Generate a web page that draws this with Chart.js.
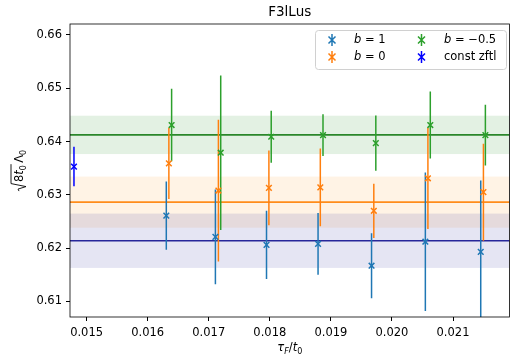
<!DOCTYPE html>
<html>
<head>
<meta charset="utf-8">
<script src="https://cdn.jsdelivr.net/npm/chart.js@4"></script>
<style>
  html, body { margin: 0; padding: 0; background: #fff; }
  #wrap { width: 515px; height: 355px; }
</style>
</head>
<body>
<div id="wrap"><canvas id="myChart" width="515" height="355"></canvas></div>
<script>
// data
const xB = [0.016305, 0.017109, 0.017946, 0.018790, 0.019666, 0.020547, 0.021454];
const yB = [0.6261, 0.6221, 0.6206, 0.6208, 0.6167, 0.6212, 0.6193];
const eB = [0.0064, 0.0089, 0.0064, 0.0058, 0.0061, 0.0130, 0.0134];

const xO = [0.016347, 0.017158, 0.017985, 0.018827, 0.019703, 0.020589, 0.021498];
const yO = [0.6359, 0.6308, 0.6313, 0.6314, 0.6270, 0.6331, 0.6305];
const eO = [0.0067, 0.0133, 0.0070, 0.0073, 0.0051, 0.0095, 0.0091];

const xG = [0.016392, 0.017196, 0.018023, 0.018871, 0.019736, 0.020628, 0.021530];
const yG = [0.6431, 0.6379, 0.6409, 0.6412, 0.6397, 0.6431, 0.6412];
const eG = [0.0068, 0.0145, 0.0049, 0.0039, 0.0052, 0.0063, 0.0057];

const xC = [0.014793];
const yC = [0.6353];
const eC = [0.0037];

// fitted constants and their bands
const fitNames = ['b=-0.5', 'b=0', 'b=1'];
const fitVal = [0.64125, 0.62863, 0.62138];
const fitErr = [0.0036, 0.0048, 0.0051];

const xTicks = [0.015, 0.016, 0.017, 0.018, 0.019, 0.020, 0.021];
const yTicks = [0.61, 0.62, 0.63, 0.64, 0.65, 0.66];
const xRange = [0.014728, 0.021925];
const yRange = [0.60707, 0.66206];

const FONT = "'DejaVu Sans', sans-serif";
const FS = 11.5;

function pts(xs, ys, es) {
  return xs.map((x, i) => ({x: x, y: ys[i], e: es[i]}));
}

const bandColors = ['rgba(0,128,0,0.11)', 'rgba(255,140,0,0.1)', 'rgba(0,0,139,0.1)'];
const lineColors = ['#2b872b', '#ff8c1a', '#27279a'];

// bands + horizontal lines under the points, error bars, frame, texts
const extras = {
  id: 'extras',
  beforeDatasetsDraw(chart) {
    const c = chart.ctx, a = chart.chartArea, ys = chart.scales.y;
    c.save();
    c.beginPath(); c.rect(a.left, a.top, a.right - a.left, a.bottom - a.top); c.clip();
    fitVal.forEach((v, i) => {
      const t = ys.getPixelForValue(v + fitErr[i]);
      const b = ys.getPixelForValue(v - fitErr[i]);
      c.fillStyle = bandColors[i];
      c.fillRect(a.left, t, a.right - a.left, b - t);
    });
    fitVal.forEach((v, i) => {
      const p = ys.getPixelForValue(v);
      c.strokeStyle = lineColors[i];
      c.lineWidth = 1.6;
      c.beginPath(); c.moveTo(a.left, p); c.lineTo(a.right, p); c.stroke();
    });
    // error bars
    chart.data.datasets.forEach(ds => {
      c.strokeStyle = ds.borderColor;
      c.lineWidth = 1.5;
      ds.data.forEach(d => {
        const px = chart.scales.x.getPixelForValue(d.x);
        c.beginPath();
        c.moveTo(px, ys.getPixelForValue(d.y + d.e));
        c.lineTo(px, ys.getPixelForValue(d.y - d.e));
        c.stroke();
      });
    });
    c.restore();
  },
  afterDraw(chart) {
    const c = chart.ctx, a = chart.chartArea;
    c.save();
    // frame
    c.strokeStyle = '#000'; c.lineWidth = 0.8;
    c.strokeRect(a.left, a.top, a.right - a.left, a.bottom - a.top);

    // title
    c.fillStyle = '#000';
    c.font = '13.5px ' + FONT;
    c.textAlign = 'center'; c.textBaseline = 'middle';
    c.fillText('F3lLus', (a.left + a.right) / 2, 12);

    // x label  τ_F / t_0
    const cx = (a.left + a.right) / 2, by = 351;
    c.textBaseline = 'alphabetic'; c.textAlign = 'left';
    let parts = [
      ['τ', 'italic ' + FS + 'px ' + FONT, 0],
      ['F', 'italic 8px ' + FONT, 2.5],
      ['/', FS + 'px ' + FONT, 0],
      ['t', 'italic ' + FS + 'px ' + FONT, 0],
      ['0', '8px ' + FONT, 2.5]
    ];
    let w = 0;
    parts.forEach(p => { c.font = p[1]; w += c.measureText(p[0]).width; });
    let x0 = cx - w / 2;
    parts.forEach(p => { c.font = p[1]; c.fillText(p[0], x0, by + p[2]); x0 += c.measureText(p[0]).width; });

    // y label  sqrt(8 t_0) Λ_0
    c.translate(19, (a.top + a.bottom) / 2);
    c.rotate(-Math.PI / 2);
    parts = [
      ['8', FS + 'px ' + FONT, 0],
      ['t', 'italic ' + FS + 'px ' + FONT, 0],
      ['0', '8px ' + FONT, 2.5],
      ['\u2009', FS + 'px ' + FONT, 0],
      ['Λ', FS + 'px ' + FONT, 0],
      ['0', '8px ' + FONT, 2.5]
    ];
    const rad = 9;
    w = rad;
    parts.forEach(p => { c.font = p[1]; w += c.measureText(p[0]).width; });
    x0 = -w / 2;
    const base = 4;
    // radical sign
    c.strokeStyle = '#000'; c.lineWidth = 0.9;
    c.beginPath();
    c.moveTo(x0, base - 4);
    c.lineTo(x0 + 2, base - 5);
    c.lineTo(x0 + 4.5, base + 3);
    c.lineTo(x0 + 7.5, base - 12);
    x0 += rad;
    let olEnd = x0;
    parts.forEach((p, i) => {
      c.font = p[1];
      const pw = c.measureText(p[0]).width;
      c.fillText(p[0], x0, base + p[2]);
      if (i < 3) olEnd = x0 + pw + 1;
      x0 += pw;
    });
    c.lineTo(olEnd, base - 12);
    c.stroke();
    c.restore();

    // legend
    c.save();
    const lx = 315, ly = 30, lw = 191, lh = 39;
    c.fillStyle = 'rgba(255,255,255,0.8)';
    c.strokeStyle = '#d0d0d0'; c.lineWidth = 1;
    c.beginPath(); c.roundRect(lx + 0.5, ly + 0.5, lw, lh, 3); c.fill(); c.stroke();
    const items = [
      [332, 40, chart.data.datasets[0], 354],
      [332, 57, chart.data.datasets[1], 354],
      [421.5, 40, chart.data.datasets[2], 444],
      [421.5, 57, chart.data.datasets[3], 444]
    ];
    items.forEach(it => {
      const [mx, my, ds, tx] = it;
      c.strokeStyle = ds.borderColor; c.lineWidth = 1.5;
      c.beginPath();
      c.moveTo(mx, my - 6); c.lineTo(mx, my + 6);
      c.moveTo(mx - 3.5, my - 3.5); c.lineTo(mx + 3.5, my + 3.5);
      c.moveTo(mx - 3.5, my + 3.5); c.lineTo(mx + 3.5, my - 3.5);
      c.stroke();
      c.fillStyle = '#000'; c.textBaseline = 'middle'; c.textAlign = 'left';
      const lab = ds.label;
      if (lab.startsWith('b')) {
        c.font = 'italic ' + FS + 'px ' + FONT;
        c.fillText('b', tx, my);
        let bx = tx + c.measureText('b').width;
        c.font = FS + 'px ' + FONT;
        c.fillText(lab.slice(1), bx, my);
      } else {
        c.font = FS + 'px ' + FONT;
        c.fillText(lab, tx, my);
      }
    });
    c.restore();
  }
};

const ctx = document.querySelector('#myChart').getContext('2d');
const myChart = new Chart(ctx, {
  type: 'scatter',
  data: {
    datasets: [
      {label: 'b = 1', data: pts(xB, yB, eB), borderColor: '#1f77b4', backgroundColor: '#1f77b4'},
      {label: 'b = 0', data: pts(xO, yO, eO), borderColor: '#ff7f0e', backgroundColor: '#ff7f0e'},
      {label: 'b = \u22120.5', data: pts(xG, yG, eG), borderColor: '#2ca02c', backgroundColor: '#2ca02c'},
      {label: 'const zftl', data: pts(xC, yC, eC), borderColor: '#0000ff', backgroundColor: '#0000ff'}
    ]
  },
  options: {
    responsive: false,
    animation: false,
    layout: {padding: {top: 24, right: 4, left: 0, bottom: 0}},
    elements: {
      point: {pointStyle: 'crossRot', radius: 4, borderWidth: 1.5, hoverRadius: 4}
    },
    plugins: {
      legend: {display: false},
      title: {display: false},
      tooltip: {enabled: false}
    },
    scales: {
      x: {
        type: 'linear',
        min: xRange[0], max: xRange[1],
        afterBuildTicks: s => { s.ticks = xTicks.map(v => ({value: v})); },
        afterFit: s => { s.height = 38; },
        grid: {drawOnChartArea: false, drawTicks: true, tickLength: 4, tickColor: '#000'},
        border: {display: false},
        ticks: {
          color: '#000', padding: 5,
          font: {family: FONT, size: FS},
          callback: v => v.toFixed(3),
          maxRotation: 0
        }
      },
      y: {
        type: 'linear',
        min: yRange[0], max: yRange[1],
        afterBuildTicks: s => { s.ticks = yTicks.map(v => ({value: v})); },
        afterFit: s => { s.width = 70; },
        grid: {drawOnChartArea: false, drawTicks: true, tickLength: 4, tickColor: '#000'},
        border: {display: false},
        ticks: {
          color: '#000', padding: 4,
          font: {family: FONT, size: FS},
          callback: v => v.toFixed(2)
        }
      }
    }
  },
  plugins: [extras]
});
</script>
</body>
</html>
